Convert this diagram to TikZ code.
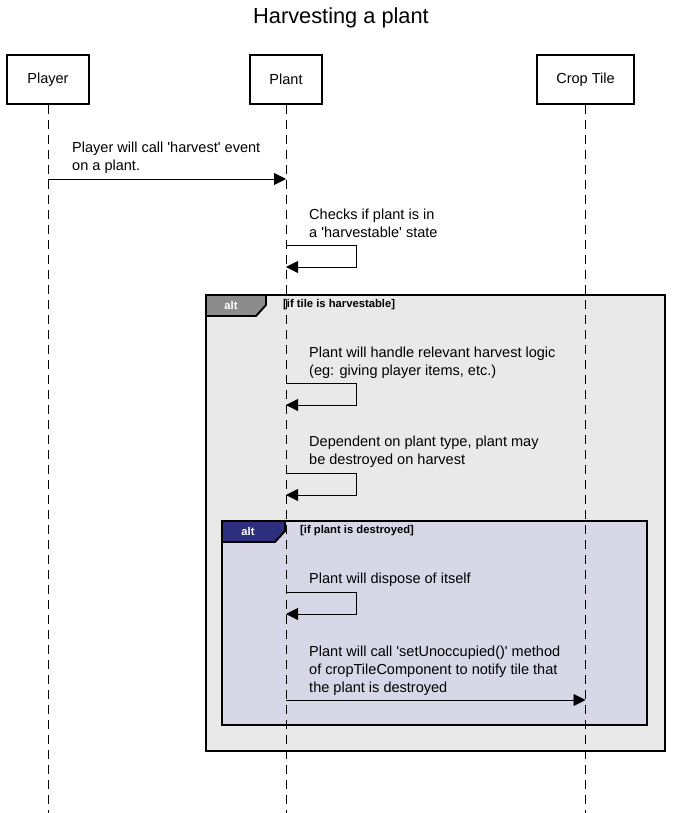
\documentclass[tikz,border=0pt]{standalone}
\usepackage{fontspec}
\setmainfont{Liberation Sans}
\usepackage{tikz}
\usetikzlibrary{arrows.meta,positioning}
\definecolor{altbg}{RGB}{233,233,233}
\definecolor{alttab}{RGB}{140,140,140}
\definecolor{innerbg}{RGB}{216,215,232}
\definecolor{innertab}{RGB}{46,46,126}
\tikzstyle{actor} = [rectangle, draw=black, line width=1.6pt, fill=white, minimum height=14.7mm, font=\fontsize{12.4}{14}\selectfont]
\tikzstyle{lifeline} = [black, line width=0.6pt, dash pattern=on 2.7mm off 1.8mm]
\tikzstyle{msg} = [black, line width=0.7pt, -{Triangle[length=3.6mm,width=3.6mm]}]
\tikzstyle{msglabel} = [anchor=north west, inner sep=0pt, align=left, font=\fontsize{12.4}{15.3}\selectfont]
\tikzstyle{guard} = [anchor=west, inner sep=0pt, font=\fontsize{9.6}{11}\selectfont\bfseries]
\tikzstyle{tablabel} = [font=\fontsize{9.6}{11}\selectfont\bfseries, text=white]

\begin{document}
\begin{tikzpicture}[x=0.3mm, y=-0.3mm]
    \useasboundingbox (0,0) rectangle (682,813);

    % Title
    \node[font=\fontsize{18.6}{22}\selectfont] (title) at (341,18) {Harvesting a plant};

    % Participants
    \node[actor, minimum width=24.6mm] (player) at (48,79.5) {Player};
    \node[actor, minimum width=21.6mm] (plant) at (286,79.5) {Plant};
    \node[actor, minimum width=29.1mm] (crop) at (585.5,79.5) {Crop Tile};
    \coordinate (bottom) at (0,813);

    % Alt frames
    \draw[line width=1.6pt, fill=altbg] (206,295) rectangle (665,751);
    \draw[line width=1.6pt, fill=alttab] (206,295) -- (266,295) -- (266,305) -- (256,316) -- (206,316) -- cycle;
    \node[tablabel] (alt1) at (231,305.5) {alt};
    \node[guard] (guard1) at (283,305) {[if tile is harvestable]};

    \draw[line width=1.6pt, fill=innerbg] (222,521) rectangle (647,725);
    \draw[line width=1.6pt, fill=innertab] (222,521) -- (285,521) -- (285,531) -- (275,542) -- (222,542) -- cycle;
    \node[tablabel] (alt2) at (248,531.5) {alt};
    \node[guard] (guard2) at (300,531) {[if plant is destroyed]};

    % Lifelines
    \draw[lifeline] (player.south) -- (player.south |- bottom);
    \draw[lifeline] (plant.south) -- (plant.south |- bottom);
    \draw[lifeline] (crop.south) -- (crop.south |- bottom);

    % Messages
    \node[msglabel] (l1) at (72,142) {Player will call \textquotesingle harvest\textquotesingle{} event\\on a plant.};
    \coordinate (m1) at (0,179);
    \draw[msg] (player |- m1) -- (plant |- m1);

    \node[msglabel] (l2) at (309,209) {Checks if plant is in\\a \textquotesingle harvestable\textquotesingle{} state};
    \coordinate (m2) at (0,245);
    \draw[msg] (plant |- m2) -- ++(70,0) -- ++(0,22) -- ++(-70,0);

    \node[msglabel] (l3) at (309,347) {Plant will handle relevant harvest logic\\(eg: giving player items, etc.)};
    \coordinate (m3) at (0,383);
    \draw[msg] (plant |- m3) -- ++(70,0) -- ++(0,22) -- ++(-70,0);

    \node[msglabel] (l4) at (309,436) {Dependent on plant type, plant may\\be destroyed on harvest};
    \coordinate (m4) at (0,473);
    \draw[msg] (plant |- m4) -- ++(70,0) -- ++(0,22) -- ++(-70,0);

    \node[msglabel] (l5) at (309,573) {Plant will dispose of itself};
    \coordinate (m5) at (0,592);
    \draw[msg] (plant |- m5) -- ++(70,0) -- ++(0,22) -- ++(-70,0);

    \node[msglabel] (l6) at (309,646) {Plant will call \textquotesingle setUnoccupied()\textquotesingle{} method\\of cropTileComponent to notify tile that\\the plant is destroyed};
    \coordinate (m6) at (0,700);
    \draw[msg] (plant |- m6) -- (crop |- m6);
\end{tikzpicture}
\end{document}
